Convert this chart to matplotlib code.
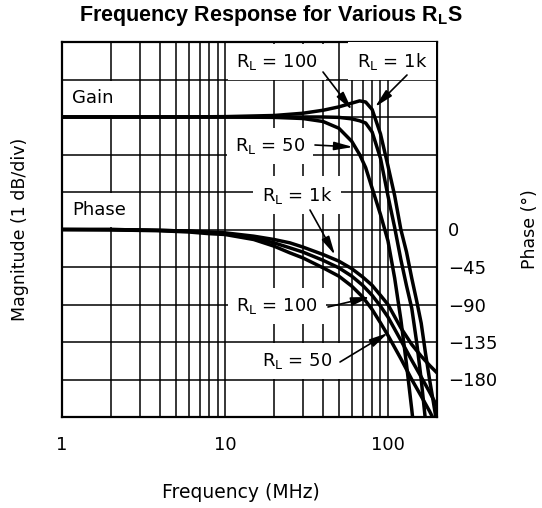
import numpy as np
import matplotlib
matplotlib.use("Agg")
import matplotlib.pyplot as plt
from matplotlib.ticker import FixedLocator, NullFormatter

plt.rcParams["font.family"] = ["DejaVu Sans"]
plt.rcParams["font.size"] = 12
plt.rcParams["mathtext.fontset"] = "custom"
plt.rcParams["mathtext.rm"] = "DejaVu Sans"
plt.rcParams["mathtext.bf"] = "Liberation Sans:bold"

# gain curves (dB)
gain_freq = [1, 5, 10, 20, 30, 40, 50, 60, 67, 73, 80, 90, 100, 110, 120, 130, 140, 150, 160, 170, 180, 190, 200]
gain_1k = [0, 0, 0.01, 0.04, 0.1, 0.18, 0.27, 0.37, 0.43, 0.40, 0.2, -0.45, -1.3, -2.1, -3.0, -3.6, -4.3, -4.9, -5.5, -6.3, -7.0, -7.6, -8.2]
gain_100 = [0, 0, 0, 0, 0, 0, -0.01, -0.05, -0.1, -0.16, -0.4, -1.1, -2.1, -2.95, -3.8, -4.5, -5.1, -6.0, -7.0, -8.1, -9.0, -10, -11]
gain_50 = [0, 0, 0, -0.01, -0.04, -0.12, -0.3, -0.65, -1.0, -1.35, -1.9, -2.6, -3.3, -4.3, -5.4, -6.6, -7.8, -9.0, -10, -11, -12, -13, -14]

# phase curves (degrees)
phase_freq = [1, 2, 4, 6, 8, 10, 15, 20, 25, 30, 40, 50, 60, 70, 80, 90, 100, 120, 140, 160, 180, 200]
phase_1k = [0, 0, -1, -2, -3, -4, -8, -12, -16, -21, -30, -38, -47, -57, -67, -79, -90, -118, -138, -152, -163, -172]
phase_100 = [0, 0, -1, -2, -4, -5, -10, -16, -22, -27, -37, -46, -56, -67, -79, -92, -105, -133, -157, -177, -195, -212]
phase_50 = [0, -0.5, -1.5, -3, -5, -6, -12, -20, -28, -34, -46, -56, -68, -81, -96, -112, -127, -155, -180, -200, -218, -236]

phase_ticks = [0, -45, -90, -135, -180]
x_major = [1, 10, 100]

W, H = 542, 508
L, R, T, B = 62, 437, 42, 417


def frac(px, py):
    return ((px - L) / (R - L), (B - py) / (B - T))


fig = plt.figure(figsize=(W / 100, H / 100), dpi=100)
ax = fig.add_axes([L / W, 1 - B / H, (R - L) / W, (B - T) / H])
ax.set_xscale("log")
ax.set_xlim(1, 200)
ax.set_ylim(-8, 2)
ax.set_axisbelow(True)

minor = [m * 10 ** d for d in range(3) for m in range(2, 10) if m * 10 ** d < 200]
ax.xaxis.set_major_locator(FixedLocator(x_major))
ax.xaxis.set_minor_locator(FixedLocator(minor))
ax.xaxis.set_minor_formatter(NullFormatter())
ax.set_xticklabels([str(v) for v in x_major])
ax.set_yticks(np.arange(-8, 3))
ax.set_yticklabels([])
ax.tick_params(which="both", length=0)
ax.tick_params(axis="x", pad=14, labelsize=13)
ax.grid(which="both", color="black", lw=1.1)
for s in ax.spines.values():
    s.set_linewidth(1.6)

lw = 2.5
ax.plot(gain_freq, gain_1k, color="black", lw=lw, zorder=4)
ax.plot(gain_freq, gain_100, color="black", lw=lw, zorder=4)
ax.plot(gain_freq, gain_50, color="black", lw=lw, zorder=4)

ax2 = ax.twinx()
ax2.set_ylim(-225, 225)
ax2.set_yticks(phase_ticks)
ax2.set_yticklabels([str(v).replace("-", "\u2212") for v in phase_ticks])
ax2.tick_params(length=0, pad=8, labelsize=13)
for s in ax2.spines.values():
    s.set_visible(False)
ax2.plot(phase_freq, phase_1k, color="black", lw=lw)
ax2.plot(phase_freq, phase_100, color="black", lw=lw)
ax2.plot(phase_freq, phase_50, color="black", lw=lw)

box = dict(facecolor="white", edgecolor="none", pad=6)
rl = r"R$_\mathrm{L}$ = "
labels = [
    ("Gain", 72, 98, "left"),
    ("Phase", 72, 210, "left"),
    (rl + "100", 277, 62, "center"),
    (rl + "1k", 392, 61, "center"),
    (rl + "50", 270, 146, "center"),
    (rl + "1k", 297, 195, "center"),
    (rl + "100", 277, 306, "center"),
    (rl + "50", 297, 361, "center"),
]
for txt, px, py, ha in labels:
    ax.text(*frac(px, py), txt, transform=ax.transAxes, ha=ha, va="center",
            fontsize=13, bbox=box, zorder=3)

arrows = [
    ((323, 72), (352, 110)),
    ((407, 75), (375, 107)),
    ((315, 145), (353, 147)),
    ((310, 210), (335, 255)),
    ((328, 307), (370, 297)),
    ((340, 362), (388, 333)),
]
for start, tip in arrows:
    ax2.annotate("", xy=frac(*tip), xytext=frac(*start),
                 xycoords="axes fraction", textcoords="axes fraction",
                 arrowprops=dict(arrowstyle="-|>,head_length=0.8,head_width=0.18",
                                 color="black", lw=1.2, shrinkA=0, shrinkB=0,
                                 mutation_scale=14))

fig.text(0.5, 1 - 16 / H, r"Frequency Response for Various R$_\mathbf{L}$S",
         ha="center", va="center", fontsize=15.5, fontweight="bold",
         family="Liberation Sans")
fig.text(20 / W, 1 - 229.5 / H, "Magnitude (1 dB/div)", rotation=90,
         ha="center", va="center", fontsize=12.5)
fig.text(530 / W, 1 - 229.5 / H, "Phase (°)", rotation=90,
         ha="center", va="center", fontsize=12.5)
fig.text(241 / W, 1 - 492 / H, "Frequency (MHz)", ha="center", va="center",
         fontsize=13.5)

fig.savefig("out.png", dpi=100)
